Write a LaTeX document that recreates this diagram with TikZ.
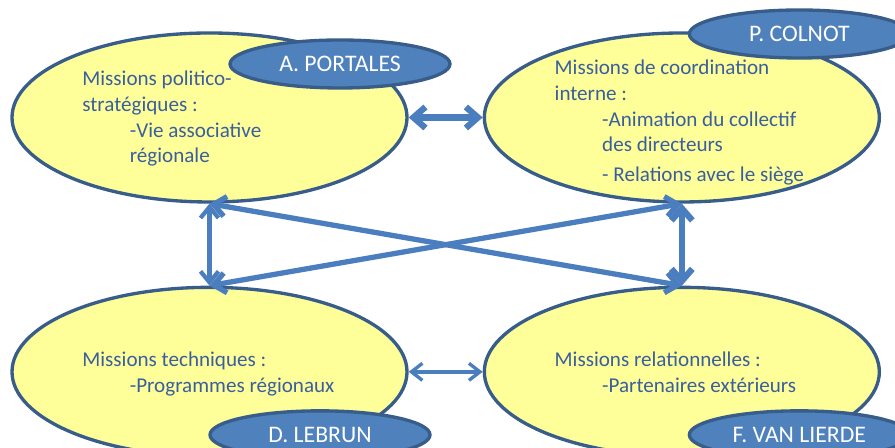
\documentclass[tikz,border=0pt]{standalone}
\usepackage{fontspec}
\setmainfont{Carlito}
\usepackage{xcolor}
\usetikzlibrary{shapes.geometric, arrows.meta, positioning, calc}

\definecolor{missionfill}{HTML}{FFFF99}
\definecolor{missionline}{HTML}{385D8A}
\definecolor{personfill}{HTML}{4F81BD}
\definecolor{linkblue}{HTML}{4A7EBF}
\definecolor{missiontext}{HTML}{3A5F9E}

\begin{document}
\begin{tikzpicture}[
    node distance=1.64cm and 1.48cm,
    mission/.style={ellipse, draw=missionline, line width=1.9pt, fill=missionfill,
                minimum width=7.9cm, minimum height=3.38cm},
    missiontxt/.style={anchor=north west, inner sep=0pt, align=left,
                text=missiontext, font=\fontsize{12}{14.6}\selectfont},
    person/.style={ellipse, draw=missionline, line width=1.9pt, fill=personfill,
                minimum width=4.4cm, minimum height=0.96cm,
                text=white, font=\fontsize{13.5}{16}\selectfont},
    bigarrow/.style={{Straight Barb[length=0.24cm, width=0.42cm]}-{Straight Barb[length=0.24cm, width=0.42cm]},
                linkblue, line width=3.6pt},
    diagarrow/.style={{Straight Barb[length=0.24cm, width=0.4cm]}-{Straight Barb[length=0.24cm, width=0.4cm]},
                linkblue, line width=3pt},
    midarrow/.style={{Straight Barb[length=0.22cm, width=0.36cm]}-{Straight Barb[length=0.22cm, width=0.36cm]},
                linkblue, line width=2.4pt},
    thinarrow/.style={{Straight Barb[length=0.22cm, width=0.34cm]}-{Straight Barb[length=0.22cm, width=0.34cm]},
                linkblue, line width=1.9pt}
]
\useasboundingbox (0,0) rectangle (17.9,8.96);

% Missions
\node[mission] (tl) at (4.19,6.61) {};
\node[mission, right=of tl] (tr) {};
\node[mission, below=of tl] (bl) {};
\node[mission, below=of tr] (br) {};

% Mission texts
\node[missiontxt] (tl-txt) at ($(tl.center)+(-2.55,0.93)$)
    {Missions politico-\\stratégiques :\\
     \hspace*{0.95cm}-Vie associative\\
     \hspace*{0.95cm}régionale};
\node[missiontxt] (tr-txt) at ($(tr.center)+(-2.55,1.15)$)
    {Missions de coordination\\interne :\\
     \hspace*{0.95cm}-Animation du collectif\\
     \hspace*{0.95cm}des directeurs\\[2pt]
     \hspace*{0.95cm}- Relations avec le siège};
\node[missiontxt] (bl-txt) at ($(bl.center)+(-2.55,0.4)$)
    {Missions techniques :\\
     \hspace*{0.95cm}-Programmes régionaux};
\node[missiontxt] (br-txt) at ($(br.center)+(-2.55,0.4)$)
    {Missions relationnelles :\\
     \hspace*{0.95cm}-Partenaires extérieurs};

% Links between missions
\draw[bigarrow]  (tl) -- (tr);
\draw[thinarrow] (bl) -- (br);
\draw[midarrow]  (tl) -- (bl);
\draw[bigarrow]  (tr) -- (br);
\draw[diagarrow] (tl.south) -- (br.north);
\draw[diagarrow] (tr.south) -- (bl.north);

% Persons in charge
\node[person] (portales) at ($(tl.center)+(2.61,1.07)$) {A. PORTALES};
\node[person] (colnot)   at ($(tr.center)+(2.35,1.67)$) {P. COLNOT};
\node[person] (lebrun)   at ($(bl.center)+(2.21,-1.26)$) {D. LEBRUN};
\node[person] (vanlierde) at ($(br.center)+(2.35,-1.26)$) {F. VAN LIERDE};

\end{tikzpicture}
\end{document}
